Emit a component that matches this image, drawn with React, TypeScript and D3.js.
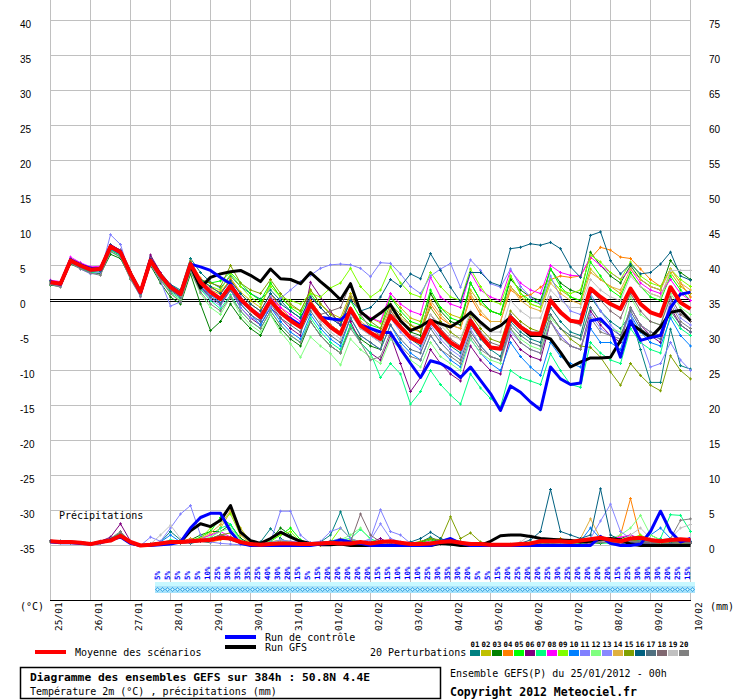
import * as d3 from 'd3';
import { useEffect, useRef } from 'react';

const WIDTH = 740;
const HEIGHT = 700;

// one label per day, a run step is 6h (4 steps per day)
const dayLabels = [
  '25/01', '26/01', '27/01', '28/01', '29/01', '30/01', '31/01', '01/02', '02/02',
  '03/02', '04/02', '05/02', '06/02', '07/02', '08/02', '09/02', '10/02',
];
const tempTicks = [-35, -30, -25, -20, -15, -10, -5, 0, 5, 10, 15, 20, 25, 30, 35, 40];
const precipTicks = [0, 5, 10, 15, 20, 25, 30, 35, 40, 45, 50, 55, 60, 65, 70, 75];

const memberColors = [
  '#008080', '#c0c000', '#008000', '#ff8000', '#00ff00', '#800080', '#00ff80', '#ff00ff', '#80ff00', '#0080ff',
  '#8080ff', '#80ff80', '#8888ff', '#e0b040', '#80a000', '#006080', '#507080', '#806870', '#c0c0c0', '#808080',
];
const memberLabels = ['01', '02', '03', '04', '05', '06', '07', '08', '09', '10',
  '11', '12', '13', '14', '15', '16', '17', '18', '19', '20'];

// snow probability, from step 11 to step 64
const pctStart = 11;
const precipPct = [
  5, 5, 5, 5, 5, 10, 25, 30, 35, 35, 25, 40, 30, 20, 15, 5, 15, 20, 20, 20, 20, 20,
  15, 15, 10, 10, 10, 25, 30, 35, 30, 20, 5, 5, 15, 20, 25, 20, 20, 25, 30, 25,
  20, 20, 20, 20, 15, 25, 30, 30, 30, 20, 25, 15,
];

// ---- temperature 2m (°C), 65 steps of 6h ----
const meanT = [
  2.6, 2.4, 5.7, 5.0, 4.4, 4.5, 7.7, 6.9,
  3.8, 1.2, 5.7, 3.6, 1.9, 0.9, 5.2, 2.6,
  1.2, 0.2, 2.1, 0.2, -1.2, -2.4, 0.0, -1.7,
  -2.9, -3.8, -0.5, -2.4, -3.8, -4.8, -1.2, -3.6,
  -4.6, -5.5, -2.2, -3.8, -5.3, -6.0, -2.9, -4.5,
  -6.0, -6.9, -2.9, -5.0, -6.7, -6.9, -2.4, -3.8,
  -4.7, -4.8, 0.0, -1.7, -2.9, -3.1, 1.7, 0.5,
  -0.5, -1.2, 1.7, -0.5, -1.7, -2.2, 1.9, -0.3,
  -1.2,
];
const controlT = [
  2.7, 2.3, 5.8, 5.1, 4.6, 4.4, 7.8, 7.0,
  3.8, 1.1, 5.8, 3.6, 2.0, 0.9, 5.2, 4.8,
  4.3, 3.3, 2.4, 0.0, -1.2, -2.5, 0.0, -1.8,
  -2.6, -3.5, -0.6, -2.4, -2.6, -2.8, -1.5, -3.5,
  -4.0, -4.5, -4.6, -6.9, -9.0, -11.0, -8.6, -9.0,
  -9.8, -11.0, -9.5, -11.4, -13.3, -15.7, -12.2, -13.1,
  -14.5, -15.6, -9.5, -11.2, -12.0, -11.8, -2.9, -2.6,
  -4.1, -8.1, -2.9, -5.7, -5.3, -5.0, -1.0, 0.9,
  1.2,
];
const gfsT = [
  2.6, 2.4, 5.7, 5.0, 4.5, 4.5, 7.7, 6.9,
  3.9, 1.2, 5.8, 3.6, 1.9, 0.9, 5.0, 1.8,
  3.3, 3.8, 4.1, 4.3, 3.6, 2.7, 4.5, 3.1,
  3.0, 2.4, 4.0, 2.7, 1.5, 0.1, 2.4, -1.6,
  -2.8, -1.8, -0.6, -2.9, -4.3, -3.7, -2.8, -3.3,
  -3.8, -2.9, -1.7, -3.1, -4.3, -3.6, -2.4, -3.8,
  -5.0, -5.0, -5.5, -7.4, -9.5, -8.8, -8.2, -8.2,
  -8.1, -5.7, -3.3, -4.3, -5.3, -3.8, -1.7, -1.4,
  -2.9,
];
const p01T = [
  2.8, 2.2, 6.0, 5.3, 4.6, 4.2, 7.9, 7.0,
  3.6, 1.0, 6.2, 4.0, 2.3, 1.5, 6.0, 4.0,
  2.6, 1.8, 3.5, 2.0, 1.0, 0.2, 1.5, 0.0,
  -1.5, -2.5, 0.0, -2.0, -3.5, -4.5, -1.0, -3.5,
  -5.0, -6.0, -2.0, -4.0, -5.5, -6.5, -3.0, -5.0,
  -6.5, -7.5, -3.5, -5.5, -7.0, -8.0, -3.0, -4.5,
  -5.5, -6.0, -1.0, -3.0, -4.5, -5.0, 0.5, -1.5,
  -3.0, -4.0, -2.0, -7.0, -11.7, -11.7, -4.1, -9.3,
  -9.8,
];
const p02T = [
  2.4, 2.6, 5.5, 4.8, 4.2, 4.6, 7.4, 6.6,
  4.0, 1.5, 5.5, 3.3, 1.5, 0.6, 4.6, 2.2,
  1.5, 0.9, 3.2, 1.2, 0.0, -1.0, 2.5, 0.5,
  -0.8, -1.5, 1.5, -0.5, -1.8, -2.5, 1.0, -1.5,
  -2.5, -3.2, 0.5, -1.0, -2.5, -3.0, 1.0, -1.0,
  -2.0, -2.5, 1.5, -0.5, -1.5, -2.0, 2.0, 0.5,
  -0.5, -1.0, 3.0, 1.5, 0.5, 0.0, 4.5, 3.0,
  2.0, 1.0, 4.0, 2.0, 1.0, 0.5, 4.0, 2.0,
  1.0,
];
const p03T = [
  2.2, 2.0, 5.2, 4.6, 4.0, 3.8, 6.6, 6.0,
  3.2, 0.8, 5.0, 2.5, 0.5, -0.5, 3.8, -0.5,
  -4.3, -3.0, -0.5, -2.5, -4.0, -5.0, -2.0, -4.0,
  -5.5, -6.5, -3.0, -5.0, -6.5, -7.5, -3.5, -5.5,
  -6.5, -7.0, -1.0, -3.0, -4.5, -5.0, 1.0, -1.5,
  -3.0, -3.5, 2.5, 0.0, -1.5, -2.0, 3.0, 1.5,
  0.5, 0.0, 4.5, 2.5, 1.5, 1.0, 6.9, 5.0,
  3.5, 2.5, 5.0, 3.0, 2.0, 1.5, 5.7, 4.0,
  3.0,
];
const p04T = [
  2.7, 2.5, 5.8, 5.1, 4.5, 4.4, 7.6, 6.8,
  3.9, 1.4, 5.4, 3.4, 1.8, 1.0, 5.6, 3.2,
  1.8, 1.2, 3.0, 1.0, -0.5, -1.5, 1.0, -1.0,
  -2.5, -3.5, 0.0, -2.0, -3.5, -4.5, -1.0, -3.5,
  -4.5, -5.0, -1.5, -3.0, -4.0, -4.5, -0.5, -2.5,
  -3.5, -4.0, 0.5, -2.0, -3.0, -3.0, 1.5, 0.5,
  0.8, 1.9, 3.0, 3.5, 3.3, 3.5, 6.0, 7.6,
  7.2, 6.2, 6.0, 4.5, 3.0, 2.0, 4.5, 2.5,
  0.5,
];
const p05T = [
  2.5, 2.3, 5.9, 5.2, 4.3, 4.7, 7.2, 6.4,
  3.5, 1.0, 5.8, 3.8, 2.0, 1.2, 5.0, 2.8,
  2.5, 2.8, 4.0, 2.5, 1.0, 0.0, 2.5, 0.5,
  -1.0, -2.0, 1.0, -1.0, -2.5, -3.5, 0.0, -2.5,
  -3.5, -4.0, 0.5, -1.5, -3.0, -3.5, 1.5, -1.0,
  -2.5, -3.0, 2.5, 0.0, -1.5, -2.0, 3.5, 1.0,
  0.0, -0.5, 4.5, 2.0, 0.5, 0.0, 5.5, 3.5,
  1.5, 0.5, 4.0, 2.0, 0.5, 0.0, 3.5, 1.5,
  0.0,
];
const p06T = [
  2.5, 2.5, 5.6, 4.9, 4.4, 4.6, 7.8, 7.2,
  4.0, 1.6, 6.5, 4.0, 1.8, 0.8, 5.0, 2.0,
  0.5, -0.5, 1.5, -1.0, -2.5, -3.5, -1.0, -2.5,
  -4.0, -5.0, 2.6, 0.5, -1.5, -3.5, -3.0, -6.0,
  -7.5, -8.5, -5.0, -9.0, -13.0, -11.0, -7.0, -9.0,
  -10.5, -11.5, -6.5, -8.5, -10.0, -10.5, -5.0, -7.0,
  -8.0, -8.5, -3.0, -5.0, -6.5, -7.0, -1.5, -3.5,
  -5.0, -6.0, -1.0, -3.5, -5.0, -6.0, -1.0, -3.5,
  -4.5,
];
const p07T = [
  2.5, 2.0, 5.4, 4.6, 4.0, 4.1, 7.0, 6.2,
  3.3, 0.7, 5.3, 3.0, 1.2, 0.2, 4.4, 1.6,
  0.0, -1.2, 0.8, -1.5, -3.0, -4.0, -1.5, -3.5,
  -5.0, -6.0, -2.5, -4.5, -6.0, -7.0, -3.5, -6.0,
  -7.5, -11.0, -9.0, -10.5, -14.8, -13.0, -10.0, -12.0,
  -13.5, -14.8, -10.5, -12.5, -14.0, -15.2, -10.0, -11.0,
  -11.5, -12.0, -7.6, -10.0, -12.0, -12.4, -6.0, -7.5,
  -8.5, -9.0, -4.0, -6.0, -7.0, -7.5, -2.0, -4.0,
  -5.0,
];
const p08T = [
  2.9, 2.7, 6.2, 5.4, 4.8, 4.9, 8.0, 7.1,
  3.8, 1.3, 5.9, 3.9, 2.2, 1.1, 5.4, 3.0,
  1.5, 0.5, 2.5, 0.5, -1.0, -2.0, 0.5, -1.0,
  -2.0, -3.0, 0.5, -1.0, -2.5, -3.5, 0.5, -1.5,
  -2.5, -3.0, 1.0, -0.5, -1.5, -2.0, 3.3, 0.5,
  -0.5, -1.0, 4.0, 1.5, 0.5, 0.0, 4.3, 2.5,
  1.5, 1.0, 5.0, 4.0, 3.6, 3.5, 6.2, 5.0,
  4.0, 3.0, 4.5, 2.5, 1.5, 1.0, 3.0, 1.0,
  0.0,
];
const p09T = [
  2.6, 2.4, 5.8, 5.2, 4.6, 4.4, 7.5, 6.7,
  3.7, 1.1, 5.5, 3.5, 1.9, 0.9, 5.3, 2.9,
  2.0, 1.5, 3.8, 2.0, 0.5, -0.5, 2.0, 0.5,
  0.0, -0.5, 1.0, 0.5, 1.8, 2.5, 4.6, 2.0,
  0.5, 1.5, 4.8, 2.5, 1.0, 0.5, 4.0, 2.0,
  0.5, 0.0, 4.5, 2.0, 0.0, -0.5, 3.5, 1.0,
  -0.5, -1.0, 3.0, 1.5, 1.0, 1.5, 6.5, 5.5,
  4.0, 3.0, 5.5, 3.5, 2.5, 2.0, 4.5, 3.0,
  2.0,
];
const p10T = [
  2.3, 2.1, 5.6, 4.8, 4.1, 4.3, 7.3, 6.5,
  3.6, 1.0, 5.6, 3.4, 1.6, 0.5, 4.8, 2.0,
  0.8, -0.3, 1.8, -0.5, -2.0, -3.5, -1.0, -3.0,
  -4.5, -5.5, -2.0, -4.0, -5.5, -6.5, -2.5, -5.0,
  -6.0, -7.0, -3.5, -6.0, -7.5, -8.5, -5.0, -7.0,
  -8.5, -9.5, -5.5, -7.5, -9.0, -10.0, -6.0, -8.0,
  -9.5, -10.7, -6.0, -8.0, -9.0, -9.5, -4.0, -6.0,
  -6.0, -7.0, -2.0, -4.5, -6.0, -6.5, -2.5, -5.0,
  -6.5,
];
const p11T = [
  2.4, 2.0, 5.5, 4.5, 3.8, 4.0, 9.4, 8.0,
  3.5, 0.5, 5.2, 2.8, -0.8, -0.2, 4.5, 1.8,
  0.2, -0.8, 1.5, -1.0, -2.5, -2.8, -1.0, 0.3,
  1.5, 2.7, 3.6, 4.6, 5.1, 5.2, 5.1, 4.6,
  3.4, 5.4, 5.3, 3.8, 2.0, 1.0, 3.5, 4.5,
  5.3, 1.9, 5.8, 4.3, 2.4, 1.9, 4.5, 2.0,
  0.5, -0.5, 3.5, 0.5, -1.5, -2.0, 1.0, -1.5,
  -3.5, -5.0, -2.0, -5.5, -9.5, -9.0, -6.0, -8.5,
  -10.0,
];
const p12T = [
  2.7, 2.3, 5.7, 5.0, 4.3, 4.5, 7.6, 6.8,
  3.6, 1.0, 5.5, 3.2, 1.0, 0.0, 4.2, 1.0,
  -1.0, -2.0, 0.5, -2.0, -3.5, -4.5, -2.0, -4.5,
  -6.2, -8.1, -5.2, -6.5, -7.6, -9.2, -5.5, -7.0,
  -8.1, -9.0, -5.5, -7.0, -8.5, -9.5, -6.0, -8.0,
  -9.0, -10.0, -5.5, -7.5, -8.5, -9.0, -4.0, -5.5,
  -6.5, -7.0, -2.5, -4.0, -5.0, -5.5, -1.0, -3.0,
  -4.0, -4.5, 0.5, -2.0, -3.0, -3.5, 1.0, -1.0,
  -2.0,
];
const p13T = [
  2.5, 2.3, 5.7, 5.1, 4.5, 4.3, 7.8, 7.0,
  4.0, 1.3, 5.9, 3.7, 2.0, 1.0, 5.4, 2.8,
  1.5, 0.3, 2.2, 0.5, -1.0, -2.0, 0.5, -1.5,
  -2.5, -3.5, -0.5, -2.5, -4.0, -5.0, -1.5, -4.0,
  -5.0, -6.0, -2.5, -4.5, -6.0, -7.0, -3.5, -5.5,
  -7.0, -8.0, -4.0, -6.5, -8.0, -8.5, -4.5, -6.0,
  -7.0, -7.5, -3.0, -5.0, -6.5, -7.0, -2.0, -4.0,
  -5.0, -5.5, -1.0, -3.5, -4.5, -5.0, 0.0, -2.5,
  -3.5,
];
const p14T = [
  2.6, 2.5, 5.6, 4.9, 4.4, 4.6, 7.7, 6.9,
  3.9, 1.3, 5.6, 3.5, 1.8, 0.8, 5.0, 2.4,
  1.0, 0.0, 2.0, 0.0, -1.5, -2.5, 0.0, -2.0,
  -3.0, -4.0, -1.0, -2.5, -3.5, -4.5, -1.0, -3.0,
  -4.0, -4.5, -1.0, -2.5, -3.5, -4.0, 0.0, -2.0,
  -3.5, -4.0, 1.0, -1.5, -3.0, -3.0, 2.0, 0.0,
  -1.0, -1.5, 2.5, 1.0, 0.0, -0.5, 4.0, 3.0,
  2.0, 1.5, 4.5, 3.0, 2.0, 1.5, 4.5, 2.5,
  1.5,
];
const p15T = [
  2.5, 2.3, 5.5, 4.9, 4.3, 4.4, 7.6, 6.8,
  3.7, 1.1, 5.6, 3.6, 1.9, 0.9, 5.5, 3.0,
  2.5, 2.0, 5.0, 2.5, 1.5, 1.0, 3.0, 1.0,
  -0.5, -1.5, 1.5, -0.5, -2.0, -3.0, 0.5, -1.5,
  -3.0, -4.0, -0.5, -2.0, -3.5, -4.5, -1.0, -3.0,
  -4.5, -5.5, -2.0, -4.0, -5.5, -6.0, -1.5, -3.0,
  -4.0, -4.5, -2.0, -4.0, -5.5, -6.5, -6.7, -8.1,
  -10.2, -12.1, -9.0, -10.7, -12.1, -12.9, -7.9, -10.0,
  -11.2,
];
const p16T = [
  2.8, 2.4, 5.9, 5.2, 4.6, 4.2, 8.0, 7.1,
  3.5, 1.0, 5.9, 3.8, 2.2, 1.3, 5.4, 3.0,
  2.0, 1.0, 2.8, 1.0, -0.5, -1.5, 1.0, -0.5,
  -1.5, -2.5, 0.5, -1.0, -2.5, -3.5, 0.0, -1.5,
  -1.0, 0.5, 3.0, 2.0, 3.8, 3.1, 6.7, 4.3,
  1.9, -0.2, 4.0, 4.0, 2.6, 2.1, 7.4, 7.6,
  8.1, 7.9, 8.3, 7.4, 4.8, 3.3, 9.3, 9.8,
  5.7, 3.8, 5.2, 3.8, 4.0, 5.2, 6.9, 3.5,
  2.9,
];
const p17T = [
  2.4, 2.2, 5.4, 4.7, 4.1, 4.3, 7.4, 6.6,
  3.5, 0.9, 5.3, 3.2, 1.4, 0.4, 4.6, 1.8,
  0.5, -0.5, 1.5, -0.5, -2.0, -3.0, -0.5, -2.5,
  -3.5, -4.5, -1.5, -3.5, -5.0, -6.0, -2.5, -5.0,
  -6.0, -7.0, -3.5, -5.5, -7.0, -7.5, -4.0, -6.0,
  -7.5, -8.5, -4.5, -6.5, -8.0, -8.5, -3.5, -5.0,
  -6.0, -6.5, -2.0, -4.0, -5.0, -5.5, -1.0, -3.0,
  -4.0, -5.0, -1.5, -4.0, -5.0, -5.5, -1.5, -3.5,
  -4.5,
];
const p18T = [
  2.6, 2.6, 5.8, 5.1, 4.5, 4.8, 7.9, 7.2,
  4.1, 1.5, 6.0, 3.9, 2.2, 1.2, 5.3, 2.7,
  1.3, 0.2, 2.3, 0.3, -1.0, -2.2, 0.3, -1.5,
  -2.5, -3.5, -0.5, -2.0, -1.5, -1.0, 2.4, -2.0,
  -4.0, -5.0, -1.5, -3.5, -5.0, -5.5, -2.0, -4.0,
  -5.5, -6.5, -2.5, -4.5, -6.0, -6.5, -2.0, -3.5,
  -4.5, -4.5, 0.5, -1.5, -3.0, -3.5, 1.5, 0.0,
  -1.5, -2.5, 1.0, -1.5, -3.0, -3.5, 0.5, -2.0,
  -3.0,
];
const p19T = [
  2.5, 2.4, 5.6, 5.0, 4.4, 4.5, 7.6, 6.9,
  3.8, 1.2, 5.7, 3.6, 1.8, 0.8, 5.1, 2.5,
  1.0, 0.0, 2.0, 0.0, -1.5, -2.5, -0.5, -2.0,
  -3.0, -4.0, -1.0, -3.0, -4.5, -5.5, -2.0, -4.0,
  -5.0, -6.0, -2.5, -4.0, -5.5, -6.0, -2.0, -3.5,
  -5.0, -5.5, -1.5, -3.5, -4.5, -4.5, 0.0, -1.5,
  -2.5, -2.5, 1.5, 0.0, -1.0, -1.0, 3.0, 1.5,
  0.5, 0.0, 3.5, 2.0, 1.0, 0.5, 4.3, 4.3,
  4.3,
];
const p20T = [
  2.3, 1.9, 5.3, 4.5, 3.9, 3.6, 7.0, 6.2,
  3.0, 0.6, 5.2, 2.9, 1.0, -0.2, 4.2, 1.2,
  -0.5, -1.5, 0.5, -1.5, -3.0, -4.0, -1.5, -3.5,
  -5.0, -6.0, -3.0, -5.0, -6.5, -7.5, -4.0, -6.0,
  -8.5, -8.0, -4.5, -6.5, -8.0, -8.5, -5.0, -7.0,
  -8.0, -9.0, -5.0, -7.0, -8.0, -8.5, -4.0, -6.0,
  -7.0, -7.5, -3.0, -5.5, -6.5, -7.0, -2.5, -4.5,
  -5.0, -5.5, -1.0, -3.5, -4.5, -5.0, -0.5, -3.0,
  -4.0,
];

// ---- precipitation (mm per 6h) ----
const meanP = [
  0.6, 0.5, 0.5, 0.4, 0.2, 0.5, 0.7, 1.4,
  0.5, 0, 0.1, 0.3, 0.5, 0.5, 0.6, 0.7,
  0.8, 1.1, 1.0, 0.5, 0.2, 0.1, 0.2, 0.3,
  0.3, 0.2, 0.2, 0.3, 0.4, 0.3, 0.3, 0.5,
  0.3, 0.5, 0.6, 0.4, 0.2, 0.2, 0.3, 0.5,
  0.6, 0.4, 0.2, 0.2, 0.1, 0.1, 0.1, 0.2,
  0.3, 0.6, 0.6, 0.6, 0.5, 0.7, 0.9, 1.1,
  0.8, 0.6, 1.0, 1.1, 0.8, 0.6, 0.8, 0.9,
  0.8,
];
const controlP = [
  0.5, 0.4, 0.4, 0.3, 0.2, 0.4, 0.8, 1.2,
  0.3, 0, 0, 0.1, 0.2, 0.5, 2.5, 4.0,
  4.6, 4.6, 2.0, 0.3, 0, 0, 0, 0,
  0, 0, 0, 0.2, 0.3, 0.8, 0.5, 0.3,
  0, 0, 0, 0, 0, 0, 0, 0.5,
  1.0, 0.3, 0, 0, 0, 0, 0, 0,
  0, 0, 0, 0, 0, 0, 0, 1.3,
  0.3, 0, 0, 0.2, 2.0, 4.9, 2.0, 0.5,
  1.0,
];
const gfsP = [
  0.6, 0.5, 0.5, 0.4, 0.2, 0.5, 0.8, 1.3,
  0.4, 0, 0.1, 0.3, 0.4, 0.5, 2.1, 3.1,
  2.7, 3.6, 5.7, 1.9, 0.7, 0.3, 1.0, 1.9,
  1.2, 0.6, 0.3, 0.1, 0.1, 0.2, 0, 0,
  0, 0, 0, 0, 0, 0, 0, 0.3,
  0.2, 0, 0, 0, 0.6, 1.4, 1.5, 1.5,
  1.3, 1.0, 0.9, 0.8, 0.7, 0.5, 0.6, 0.9,
  1.0, 0.8, 0.2, 0, 0, 0, 0, 0,
  0,
];
const p01P = [
  0.6, 0.5, 0.4, 0.3, 0.2, 0.5, 0.9, 1.6,
  0.4, 0, 0.1, 0.5, 2.0, 0.8, 0.3, 0.6,
  0.4, 1.5, 1.0, 0.2, 0, 0.5, 2.4, 1.0,
  0.3, 0.2, 0.1, 0.5, 1.5, 4.8, 1.0, 0.3,
  0.2, 0, 0, 0, 0.3, 0.5, 1.2, 0.5,
  0.3, 0, 0, 0, 0, 0, 0, 0,
  0, 0, 0.5, 0.3, 0.2, 0.2, 0.5, 0.6,
  0.3, 0.2, 0.5, 0.3, 0.2, 0.2, 0.3, 0.5,
  0.6,
];
const p02P = [
  0.5, 0.4, 0.5, 0.3, 0.3, 0.4, 0.7, 1.2,
  0.3, 0, 0, 0.2, 0.4, 0.3, 0.5, 1.0,
  1.5, 2.5, 4.8, 2.5, 0.5, 0.2, 0.5, 0.8,
  0.5, 0.2, 0, 0, 0.3, 0.5, 0.8, 0.4,
  0.2, 0, 0, 0, 0, 0.2, 0.5, 0.3,
  0.2, 0, 0, 0, 0, 0, 0, 0.3,
  0.5, 0.4, 0.2, 0, 0, 0.3, 0.5, 0.4,
  0.5, 0.8, 1.0, 0.6, 0.3, 0.2, 0.4, 0.5,
  0.4,
];
const p03P = [
  0.6, 0.6, 0.5, 0.4, 0.3, 0.5, 1.0, 1.8,
  0.5, 0, 0.2, 0.4, 0.6, 0.4, 0.8, 1.5,
  2.0, 2.0, 3.0, 1.0, 0.3, 0.2, 0.8, 2.5,
  1.5, 0.5, 0.2, 0.3, 0.2, 0.3, 0.5, 0.5,
  0.3, 0, 0, 0, 0.2, 0.5, 1.0, 0.4,
  0.2, 0, 0, 0, 0, 0, 0, 0,
  0, 0, 0, 0, 0.2, 0.3, 0.4, 0.3,
  0.5, 1.0, 1.5, 0.8, 0.5, 0.5, 0.7, 0.6,
  0.5,
];
const p04P = [
  0.5, 0.5, 0.4, 0.3, 0.2, 0.4, 0.8, 1.4,
  0.4, 0, 0.1, 0.3, 0.5, 0.5, 1.0, 0.7,
  0.5, 0.8, 1.2, 0.5, 0.2, 0.1, 0.3, 0.5,
  0.3, 0.1, 0, 0.1, 0.2, 0.3, 0.4, 0.3,
  0.2, 0, 0, 0, 0, 0.2, 0.4, 0.5,
  0.8, 0.6, 0.3, 0, 0, 0, 0, 0.2,
  0.3, 0.5, 0.8, 1.0, 0.6, 0.5, 0.4, 0.5,
  0.5, 1.5, 6.7, 1.0, 0.4, 0.3, 0.5, 0.4,
  0.3,
];
const p05P = [
  0.6, 0.5, 0.5, 0.4, 0.2, 0.5, 0.8, 1.5,
  0.4, 0, 0.1, 0.3, 0.5, 0.4, 0.6, 1.2,
  2.0, 4.0, 3.0, 0.8, 0.2, 0.1, 0.6, 1.5,
  2.5, 0.8, 0.2, 0.2, 0.3, 0.5, 0.4, 0.3,
  0.2, 0, 0, 0, 0.2, 0.4, 0.8, 0.4,
  0.2, 0, 0, 0, 0, 0, 0, 0,
  0, 0, 0.2, 0.3, 0.3, 0.2, 0.5, 0.8,
  1.0, 0.8, 0.6, 0.8, 1.5, 0.8, 0.5, 0.6,
  0.5,
];
const p06P = [
  0.7, 0.6, 0.5, 0.4, 0.3, 0.6, 1.2, 3.1,
  0.6, 0, 0.2, 0.4, 0.5, 0.3, 0.4, 0.6,
  0.8, 1.5, 1.0, 0.3, 0.1, 0, 0.2, 0.5,
  0.3, 0.2, 0.3, 0.5, 0.6, 0.4, 0.3, 0.2,
  0.5, 1.0, 0.3, 0, 0, 0.2, 0.5, 0.3,
  0.2, 0, 0, 0, 0, 0, 0, 0,
  0, 0, 0.2, 0.2, 0.3, 0.2, 0.4, 0.5,
  0.4, 0.3, 0.5, 0.4, 0.3, 0.3, 0.4, 0.3,
  0.3,
];
const p07P = [
  0.5, 0.5, 0.4, 0.3, 0.2, 0.4, 0.9, 1.8,
  0.5, 0, 0.1, 0.3, 0.8, 0.6, 0.5, 0.7,
  1.0, 2.5, 3.0, 0.8, 0.2, 0.1, 0.3, 0.6,
  0.5, 0.3, 0.2, 0.3, 0.5, 0.8, 1.0, 2.3,
  1.0, 0.3, 0, 0, 0, 0.2, 0.4, 0.3,
  0, 0, 0, 0, 0, 0, 0, 0,
  0, 0, 0.3, 0.2, 0.2, 0.3, 0.5, 0.4,
  0.3, 0.5, 0.8, 0.6, 0.5, 1.0, 4.4, 4.3,
  2.0,
];
const p08P = [
  0.6, 0.5, 0.5, 0.3, 0.2, 0.5, 0.8, 1.3,
  0.4, 0, 0.1, 0.2, 0.4, 0.3, 0.6, 0.9,
  1.5, 2.0, 1.2, 0.4, 0.1, 0, 0.3, 0.5,
  0.4, 0.2, 0.1, 0.2, 0.4, 0.6, 0.5, 0.3,
  0.2, 0, 0, 0, 0, 0.3, 0.6, 0.4,
  0.2, 0, 0, 0, 0, 0, 0, 0,
  0, 0, 0.2, 0.3, 0.4, 0.5, 0.5, 0.8,
  1.0, 1.2, 1.5, 1.0, 0.5, 0.4, 0.5, 0.6,
  0.5,
];
const p09P = [
  0.6, 0.5, 0.4, 0.4, 0.2, 0.5, 0.8, 1.6,
  0.4, 0, 0.2, 0.4, 0.5, 0.4, 0.8, 1.0,
  2.5, 3.5, 4.5, 1.5, 0.3, 0.2, 0.8, 1.5,
  2.0, 0.5, 0.2, 0.3, 0.5, 2.5, 1.0, 0.5,
  0.3, 0, 0, 0, 0, 0.2, 0.5, 0.3,
  0.2, 0, 0, 0, 0, 0, 0, 0,
  0, 0, 0.3, 0.2, 0.3, 0.5, 0.8, 0.6,
  0.5, 0.8, 1.0, 1.5, 0.8, 0.5, 0.6, 0.5,
  0.4,
];
const p10P = [
  0.5, 0.5, 0.4, 0.3, 0.2, 0.4, 0.8, 1.4,
  0.4, 0, 0.2, 0.5, 1.5, 0.5, 0.4, 0.8,
  1.0, 1.5, 1.0, 0.3, 0.1, 0, 0.3, 0.5,
  0.4, 0.2, 0.1, 0.3, 0.6, 1.0, 0.6, 0.4,
  0.3, 0, 0, 0, 0, 0.2, 0.4, 0.8,
  1.0, 0.5, 0.2, 0, 0, 0, 0, 0,
  0, 0, 0.2, 0.3, 0.5, 0.6, 2.5, 1.0,
  0.6, 0.4, 0.5, 0.8, 1.5, 2.5, 1.0, 0.6,
  0.5,
];
const p11P = [
  0.6, 0.5, 0.5, 0.4, 0.3, 0.5, 0.7, 1.2,
  0.3, 0, 1.2, 0.6, 2.5, 4.5, 5.7, 1.5,
  0.5, 0.3, 0.2, 0.1, 0, 0.2, 0.5, 4.9,
  4.9, 1.5, 0.3, 0.2, 0.5, 1.0, 0.6, 0.4,
  1.0, 5.1, 2.0, 1.5, 0.3, 0.2, 0.3, 0.2,
  0.1, 0, 0, 0, 0, 0, 0, 0,
  0, 0, 0.2, 0.3, 0.3, 0.4, 0.5, 0.6,
  0.8, 0.5, 0.5, 1.0, 0.6, 0.4, 0.5, 0.5,
  0.4,
];
const p12P = [
  0.5, 0.4, 0.4, 0.3, 0.2, 0.4, 0.8, 1.5,
  0.4, 0, 0.1, 0.3, 0.6, 0.4, 0.5, 0.8,
  1.2, 2.0, 2.5, 0.8, 0.2, 0.1, 0.4, 0.8,
  0.6, 0.3, 0.2, 0.3, 0.5, 0.8, 1.5, 2.5,
  0.8, 0.2, 0, 0, 0, 0.2, 0.5, 0.4,
  0.2, 0, 0, 0, 0, 0, 0, 0,
  0, 0, 0.2, 0.3, 0.2, 0.3, 0.5, 0.8,
  1.0, 1.5, 2.5, 4.3, 1.5, 0.8, 0.6, 0.5,
  0.4,
];
const p13P = [
  0.6, 0.5, 0.4, 0.3, 0.2, 0.5, 0.9, 1.5,
  0.4, 0, 0.2, 0.4, 0.6, 0.5, 0.8, 0.9,
  1.0, 1.2, 0.8, 0.3, 0.1, 0.1, 0.4, 0.8,
  0.6, 0.5, 0.4, 0.6, 2.0, 2.5, 1.0, 0.5,
  0.8, 3.1, 1.0, 0.5, 0.2, 0.2, 0.3, 0.2,
  0.1, 0, 0, 0, 0, 0, 0, 0,
  0, 0, 0.2, 0.3, 0.4, 0.5, 1.0, 3.5,
  5.9, 2.0, 1.0, 0.8, 0.5, 0.4, 0.4, 0.4,
  0.3,
];
const p14P = [
  0.5, 0.5, 0.4, 0.3, 0.2, 0.4, 0.8, 1.3,
  0.3, 0, 0.1, 0.3, 0.4, 0.3, 0.5, 1.0,
  1.8, 3.0, 5.0, 1.5, 0.3, 0.1, 0.3, 0.6,
  0.4, 0.2, 0.1, 0.2, 0.4, 1.0, 0.5, 0.3,
  0.2, 0, 0, 0, 0, 0.2, 0.3, 0.2,
  0.1, 0, 0, 0, 0, 0, 0.2, 0.3,
  0.2, 0.3, 0.4, 0.5, 0.6, 1.0, 3.8, 1.0,
  0.5, 0.4, 0.6, 0.5, 0.4, 0.3, 0.5, 0.4,
  0.4,
];
const p15P = [
  0.6, 0.5, 0.4, 0.3, 0.2, 0.5, 0.8, 1.4,
  0.4, 0, 0.1, 0.3, 0.5, 0.4, 0.6, 0.8,
  1.0, 1.5, 1.8, 0.5, 0.2, 0.1, 0.3, 0.5,
  0.3, 0.2, 0.1, 0.3, 0.4, 0.5, 0.4, 0.3,
  0.2, 0, 0, 0, 0.3, 0.6, 1.0, 0.8,
  4.1, 1.0, 1.8, 0.5, 0.2, 0, 0, 0,
  0, 0, 0.2, 0.2, 0.3, 0.4, 0.6, 0.8,
  0.6, 0.5, 0.8, 0.6, 0.4, 0.3, 0.4, 0.3,
  0.3,
];
const p16P = [
  0.6, 0.6, 0.5, 0.4, 0.3, 0.5, 0.9, 1.6,
  0.5, 0, 0.1, 0.3, 0.5, 0.4, 0.5, 0.7,
  0.8, 1.0, 0.8, 0.3, 0.1, 0, 0.3, 0.5,
  0.4, 0.2, 0.2, 0.4, 0.6, 0.8, 0.5, 0.4,
  0.3, 0, 0, 0, 0.5, 1.0, 1.9, 1.0,
  0.5, 0.2, 0, 0, 0, 0, 0, 0.3,
  0.8, 2.0, 8.0, 2.0, 1.5, 1.0, 1.5, 8.1,
  1.5, 0.8, 0.6, 0.5, 0.6, 0.8, 0.5, 0.6,
  0.5,
];
const p17P = [
  0.5, 0.4, 0.4, 0.3, 0.2, 0.4, 0.7, 1.2,
  0.3, 0, 0.1, 0.2, 0.4, 0.3, 0.5, 0.7,
  1.0, 1.2, 1.0, 0.3, 0.1, 0, 0.2, 0.4,
  0.3, 0.2, 0.1, 0.2, 0.4, 0.5, 0.3, 0.2,
  0.2, 0, 0, 0, 0, 0.2, 0.3, 0.2,
  0.1, 0, 0, 0, 0, 0, 0, 0,
  0, 0.2, 0.3, 0.5, 0.8, 0.6, 0.5, 0.8,
  1.0, 0.6, 0.5, 0.4, 0.3, 0.2, 0.3, 0.4,
  0.3,
];
const p18P = [
  0.6, 0.5, 0.4, 0.3, 0.3, 0.5, 0.9, 1.7,
  0.4, 0, 0.2, 0.3, 0.5, 0.4, 0.6, 0.8,
  1.0, 1.5, 1.2, 0.4, 0.1, 0.1, 0.3, 0.5,
  0.4, 0.3, 0.2, 0.3, 0.4, 0.5, 0.5, 4.5,
  1.5, 0.5, 0.2, 0, 0, 0.2, 0.3, 0.2,
  0.1, 0, 0, 0, 0, 0, 0, 0,
  0, 0, 0.2, 0.3, 0.4, 0.5, 0.4, 0.5,
  0.6, 0.5, 0.6, 0.5, 0.4, 0.5, 0.6, 0.5,
  0.4,
];
const p19P = [
  0.5, 0.5, 0.4, 0.3, 0.2, 0.4, 0.8, 1.4,
  0.4, 0, 0.2, 1.5, 2.9, 1.0, 0.5, 0.7,
  0.9, 1.2, 0.9, 0.3, 0.1, 0, 0.3, 0.5,
  0.4, 0.2, 0.2, 0.3, 0.4, 0.5, 0.4, 0.3,
  0.2, 0, 0, 0, 0, 0.2, 0.3, 0.3,
  0.2, 0, 0, 0, 0, 0, 0, 0.5,
  1.5, 1.0, 0.5, 0.3, 0.4, 0.5, 0.8, 0.6,
  0.5, 0.4, 1.5, 2.5, 1.0, 0.5, 1.0, 2.5,
  3.0,
];
const p20P = [
  0.6, 0.5, 0.5, 0.4, 0.3, 0.5, 1.0, 2.0,
  0.5, 0, 0.1, 0.3, 0.5, 0.4, 0.5, 0.7,
  1.0, 1.3, 1.0, 0.3, 0.1, 0, 0.2, 0.4,
  0.3, 0.2, 0.1, 0.2, 0.3, 0.5, 0.4, 0.3,
  0.2, 0, 0, 0, 0, 0.2, 0.3, 0.2,
  0.1, 0, 0, 0, 0, 0, 0, 0,
  0, 0, 0.2, 0.2, 0.3, 0.4, 0.5, 0.5,
  0.4, 0.5, 0.6, 0.5, 0.6, 0.8, 1.0, 3.6,
  3.8,
];

const membersT = [p01T, p02T, p03T, p04T, p05T, p06T, p07T, p08T, p09T, p10T,
  p11T, p12T, p13T, p14T, p15T, p16T, p17T, p18T, p19T, p20T];
const membersP = [p01P, p02P, p03P, p04P, p05P, p06P, p07P, p08P, p09P, p10P,
  p11P, p12P, p13P, p14P, p15P, p16P, p17P, p18P, p19P, p20P];

const MONO = '"DejaVu Sans Mono", monospace';
const SANS = '"Liberation Sans", Arial, sans-serif';

export default function App() {
  const svgRef = useRef<SVGSVGElement>(null);

  useEffect(() => {
    if (!svgRef.current) return;
    const svg = d3.select(svgRef.current);
    svg.selectAll('*').remove();

    svg.append('rect').attr('width', WIDTH).attr('height', HEIGHT).attr('fill', '#fff');

    const x = d3.scaleLinear().domain([0, 64]).range([50.5, 690.5]);
    const yT = d3.scaleLinear().domain([-35, 40]).range([545.5, 20.5]);
    const yP = d3.scaleLinear().domain([0, 75]).range([545.5, 20.5]);

    // grid
    const grid = svg.append('g').attr('stroke', '#c0c0c0').attr('stroke-width', 1);
    dayLabels.forEach((_, k) => {
      grid.append('line')
        .attr('x1', x(k * 4)).attr('x2', x(k * 4))
        .attr('y1', 0).attr('y2', 600);
    });
    tempTicks.filter((v) => v !== 0).forEach((v) => {
      grid.append('line')
        .attr('x1', 50).attr('x2', 691)
        .attr('y1', yT(v)).attr('y2', yT(v));
    });

    // base line of the chart
    svg.append('line')
      .attr('x1', 50).attr('x2', 691).attr('y1', 600.5).attr('y2', 600.5)
      .attr('stroke', '#000');

    // freezing line, drawn double
    [-1, 1].forEach((off) => {
      svg.append('line')
        .attr('x1', 50).attr('x2', 691)
        .attr('y1', yT(0) + off).attr('y2', yT(0) + off)
        .attr('stroke', '#000');
    });

    // axis labels
    const axisText = svg.append('g').style('font-family', SANS).style('font-size', '10px');
    tempTicks.forEach((v) => {
      axisText.append('text').attr('x', 20).attr('y', yT(v) + 7).text(String(v));
    });
    precipTicks.forEach((v) => {
      axisText.append('text').attr('x', 709).attr('y', yP(v) + 7).text(String(v));
    });

    // snow band with probabilities
    const defs = svg.append('defs');
    const pat = defs.append('pattern')
      .attr('id', 'snow').attr('patternUnits', 'userSpaceOnUse')
      .attr('x', 155).attr('y', 586).attr('width', 5).attr('height', 7);
    pat.append('rect').attr('width', 5).attr('height', 7).attr('fill', '#a8e2fa');
    [[2, 1], [1, 2], [3, 2], [0, 3], [4, 3], [1, 4], [3, 4], [2, 5]].forEach(([px, py]) => {
      pat.append('rect').attr('x', px).attr('y', py).attr('width', 1).attr('height', 1).attr('fill', '#48aee8');
    });
    pat.append('rect').attr('x', 2).attr('y', 3).attr('width', 1).attr('height', 1).attr('fill', '#eafcff');

    svg.append('rect').attr('x', 155).attr('y', 582).attr('width', 540).attr('height', 4).attr('fill', '#c8f8ff');
    svg.append('rect').attr('x', 155).attr('y', 586).attr('width', 540).attr('height', 7).attr('fill', 'url(#snow)');

    const pctG = svg.append('g')
      .style('font-family', MONO).style('font-size', '7.5px').style('font-weight', 'bold')
      .attr('fill', '#0000ff');
    precipPct.forEach((p, k) => {
      const i = pctStart + k;
      pctG.append('text')
        .attr('transform', `translate(${x(i) - 1},580) rotate(-90)`)
        .text(`${p}%`);
    });

    // series
    const lineT = d3.line<number>().x((_, i) => x(i)).y((d) => yT(d));
    const lineP = d3.line<number>().x((_, i) => x(i)).y((d) => yP(d));
    const crosses = (vals: number[], ys: d3.ScaleLinear<number, number>) =>
      vals.map((v, i) => `M${x(i) - 1.5},${ys(v)}h3M${x(i)},${ys(v) - 1.5}v3`).join('');

    const drawPanel = (
      members: number[][],
      gfs: number[],
      control: number[],
      mean: number[],
      line: d3.Line<number>,
      ys: d3.ScaleLinear<number, number>
    ) => {
      const g = svg.append('g').attr('fill', 'none').attr('stroke-linejoin', 'round');
      members.forEach((vals, m) => {
        g.append('path').attr('d', line(vals)).attr('stroke', memberColors[m]).attr('stroke-width', 1);
        g.append('path').attr('d', crosses(vals, ys)).attr('stroke', memberColors[m]).attr('stroke-width', 1);
      });
      g.append('path').attr('d', line(gfs)).attr('stroke', '#000').attr('stroke-width', 3);
      g.append('path').attr('d', line(control)).attr('stroke', '#0000ff').attr('stroke-width', 3);
      g.append('path').attr('d', line(mean)).attr('stroke', '#ff0000').attr('stroke-width', 4);
    };

    drawPanel(membersP, gfsP, controlP, meanP, lineP, yP);
    drawPanel(membersT, gfsT, controlT, meanT, lineT, yT);

    // texts
    const txt = svg.append('g').style('font-family', MONO).style('font-size', '10px').attr('fill', '#000');
    txt.append('text').attr('x', 59).attr('y', 519).text('Précipitations');
    txt.append('text').attr('x', 20).attr('y', 610).text('(°C)');
    txt.append('text').attr('x', 710).attr('y', 610).text('(mm)');

    dayLabels.forEach((d, k) => {
      txt.append('text')
        .attr('transform', `translate(${x(k * 4) + 11},631) rotate(-90)`)
        .style('font-size', '9.5px')
        .text(d);
    });

    // legend
    svg.append('rect').attr('x', 35).attr('y', 650).attr('width', 31).attr('height', 4).attr('fill', '#ff0000');
    txt.append('text').attr('x', 75).attr('y', 656).text('Moyenne des scénarios');
    svg.append('rect').attr('x', 225).attr('y', 635).attr('width', 31).attr('height', 4).attr('fill', '#0000ff');
    txt.append('text').attr('x', 265).attr('y', 641).text('Run de contrôle');
    svg.append('rect').attr('x', 225).attr('y', 645).attr('width', 31).attr('height', 4).attr('fill', '#000');
    txt.append('text').attr('x', 265).attr('y', 651).text('Run GFS');
    txt.append('text').attr('x', 370).attr('y', 656).text('20 Perturbations');

    memberColors.forEach((c, m) => {
      const sx = 470 + m * 11;
      svg.append('rect').attr('x', sx).attr('y', 650).attr('width', 10).attr('height', 6).attr('fill', c);
      txt.append('text')
        .attr('x', sx + 5).attr('y', 647)
        .attr('text-anchor', 'middle')
        .style('font-size', '7.4px').style('font-weight', 'bold')
        .text(memberLabels[m]);
    });

    // title box
    svg.append('rect')
      .attr('x', 20.5).attr('y', 667.5).attr('width', 420).attr('height', 31)
      .attr('fill', 'none').attr('stroke', '#000').attr('stroke-width', 1.5);
    txt.append('text').attr('x', 30).attr('y', 681)
      .style('font-size', '11.3px').style('font-weight', 'bold')
      .text('Diagramme des ensembles GEFS sur 384h : 50.8N 4.4E');
    txt.append('text').attr('x', 30).attr('y', 695).text('Température 2m (°C) , précipitations (mm)');
    txt.append('text').attr('x', 450).attr('y', 677).text('Ensemble GEFS(P) du 25/01/2012 - 00h');
    txt.append('text').attr('x', 450).attr('y', 696)
      .style('font-size', '11.5px').style('font-weight', 'bold')
      .text('Copyright 2012 Meteociel.fr');
  }, []);

  return (
    <svg
      ref={svgRef}
      width={WIDTH}
      height={HEIGHT}
      style={{ position: 'absolute', left: 0, top: 0, display: 'block' }}
    />
  );
}
